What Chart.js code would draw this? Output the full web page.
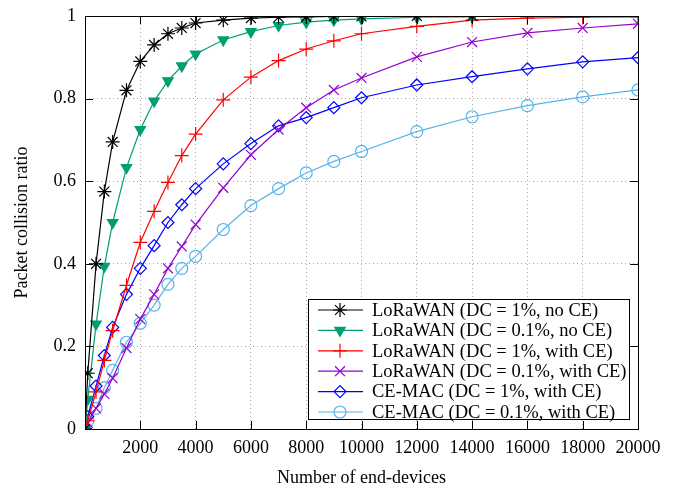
<!DOCTYPE html>
<html>
<head>
<meta charset="utf-8">
<script src="https://cdn.jsdelivr.net/npm/chart.js@4.4.1/dist/chart.umd.min.js"></script>
<style>
    html, body { margin: 0; padding: 0; background: #fff; }
    #wrap { width: 681px; height: 490px; }
</style>
</head>
<body>
<div id="wrap"><canvas id="collision-chart" width="681" height="490"></canvas></div>
<script>
// Số thiết bị (trục X)
const devices = [0, 100, 400, 700, 1000, 1500, 2000, 2500, 3000, 3500, 4000, 5000, 6000, 7000, 8000, 9000, 10000, 12000, 14000, 16000, 18000, 20000];

// Tỉ lệ va chạm - mỗi chuỗi một mảng
const loraDc1NoCe = [0, 0.135, 0.40, 0.575, 0.695, 0.82, 0.89, 0.93, 0.957, 0.971, 0.983, 0.99, 0.995, 0.997, 0.998, 0.999, 0.999, 1.0, 1.0];
const loraDc01NoCe = [0, 0.072, 0.254, 0.394, 0.50, 0.633, 0.725, 0.794, 0.843, 0.879, 0.908, 0.942, 0.962, 0.977, 0.985, 0.99, 0.993, 0.997, 0.998];
const loraDc1Ce = [0, 0.02, 0.09, 0.166, 0.238, 0.348, 0.452, 0.527, 0.597, 0.662, 0.714, 0.797, 0.852, 0.892, 0.92, 0.94, 0.957, 0.975, 0.99, 0.995, 0.997, 0.998];
const loraDc01Ce = [0, 0.015, 0.05, 0.085, 0.123, 0.196, 0.266, 0.326, 0.389, 0.442, 0.495, 0.584, 0.664, 0.725, 0.778, 0.821, 0.85, 0.901, 0.937, 0.959, 0.971, 0.981];
const ceMacDc1 = [0, 0.03, 0.104, 0.178, 0.246, 0.326, 0.389, 0.444, 0.50, 0.543, 0.582, 0.642, 0.691, 0.734, 0.754, 0.778, 0.802, 0.833, 0.853, 0.872, 0.889, 0.899];
const ceMacDc01 = [0, 0.02, 0.05, 0.10, 0.142, 0.21, 0.256, 0.30, 0.35, 0.389, 0.418, 0.483, 0.541, 0.582, 0.62, 0.648, 0.672, 0.72, 0.756, 0.783, 0.804, 0.821];

const seriesLabels = [
    'LoRaWAN (DC = 1%, no CE)',
    'LoRaWAN (DC = 0.1%, no CE)',
    'LoRaWAN (DC = 1%, with CE)',
    'LoRaWAN (DC = 0.1%, with CE)',
    'CE-MAC (DC = 1%, with CE)',
    'CE-MAC (DC = 0.1%, with CE)'
];

const xTicks = [0, 2000, 4000, 6000, 8000, 10000, 12000, 14000, 16000, 18000, 20000];
const yTicks = [0, 0.2, 0.4, 0.6, 0.8, 1];
const yTickLabels = ['0', '0.2', '0.4', '0.6', '0.8', '1'];

const FONT = "'Liberation Serif', 'DejaVu Serif', serif";

function toPoints(values) {
    return values.map((v, i) => ({ x: devices[i], y: v }));
}

function makeSeries(label, values, color, style, radius, extra) {
    return Object.assign({
        label: label,
        data: toPoints(values),
        borderColor: color,
        backgroundColor: color,
        borderWidth: 1.2,
        pointStyle: style,
        pointRadius: radius,
        pointBorderColor: color,
        pointBackgroundColor: color,
        pointBorderWidth: 1.2,
        tension: 0
    }, extra || {});
}

const datasets = [
    makeSeries(seriesLabels[0], loraDc1NoCe, '#000000', 'star', 7),
    makeSeries(seriesLabels[1], loraDc01NoCe, '#009e73', 'triangle', 6, { pointRotation: 180 }),
    makeSeries(seriesLabels[2], loraDc1Ce, '#ff0000', 'cross', 7),
    makeSeries(seriesLabels[3], loraDc01Ce, '#9400d3', 'crossRot', 7),
    makeSeries(seriesLabels[4], ceMacDc1, '#0000ff', 'rectRot', 6, { pointBackgroundColor: 'rgba(0,0,0,0)' }),
    makeSeries(seriesLabels[5], ceMacDc01, '#56b4e9', 'circle', 6, { pointBackgroundColor: 'rgba(0,0,0,0)' })
];

// Khung, vạch chia hướng vào trong và chú thích đặt trong vùng vẽ (kiểu gnuplot)
const gnuplotFrame = {
    id: 'gnuplotFrame',
    afterDraw(chart) {
        const ctx = chart.ctx;
        const a = chart.chartArea;
        const xs = chart.scales.x;
        const ys = chart.scales.y;
        ctx.save();

        // Chú thích
        const box = { left: 308, top: 299, right: a.right - 9, bottom: a.bottom - 10 };
        ctx.fillStyle = '#fff';
        ctx.fillRect(box.left, box.top, box.right - box.left, box.bottom - box.top);
        ctx.strokeStyle = '#000';
        ctx.lineWidth = 1;
        ctx.strokeRect(box.left + 0.5, box.top + 0.5, box.right - box.left, box.bottom - box.top);

        ctx.font = '18.5px ' + FONT;
        ctx.textBaseline = 'middle';
        ctx.textAlign = 'left';
        chart.data.datasets.forEach((ds, i) => {
            const y = box.top + 11 + i * 20.4;
            ctx.strokeStyle = ds.borderColor;
            ctx.lineWidth = ds.borderWidth;
            ctx.beginPath();
            ctx.moveTo(box.left + 10, y);
            ctx.lineTo(box.left + 55, y);
            ctx.stroke();
            ctx.fillStyle = ds.pointBackgroundColor;
            ctx.strokeStyle = ds.pointBorderColor;
            ctx.lineWidth = ds.pointBorderWidth;
            Chart.helpers.drawPoint(ctx, {
                pointStyle: ds.pointStyle,
                rotation: ds.pointRotation || 0,
                radius: ds.pointRadius,
                borderWidth: ds.pointBorderWidth
            }, box.left + 32, y);
            ctx.fillStyle = '#000';
            ctx.fillText(ds.label, box.left + 64, y + 1);
        });

        // Vạch chia
        ctx.strokeStyle = '#000';
        ctx.lineWidth = 1;
        const tl = 8;
        ctx.beginPath();
        xTicks.forEach(v => {
            const px = Math.round(xs.getPixelForValue(v)) + 0.5;
            ctx.moveTo(px, a.bottom); ctx.lineTo(px, a.bottom - tl);
            ctx.moveTo(px, a.top); ctx.lineTo(px, a.top + tl);
        });
        yTicks.forEach(v => {
            const py = Math.round(ys.getPixelForValue(v)) + 0.5;
            ctx.moveTo(a.left, py); ctx.lineTo(a.left + tl, py);
            ctx.moveTo(a.right, py); ctx.lineTo(a.right - tl, py);
        });
        ctx.stroke();

        // Khung
        ctx.strokeRect(Math.round(a.left) + 0.5, Math.round(a.top) + 0.5,
            Math.round(a.right - a.left), Math.round(a.bottom - a.top));
        ctx.restore();
    }
};

new Chart(document.getElementById('collision-chart'), {
    type: 'line',
    data: { datasets: datasets },
    options: {
        responsive: false,
        animation: false,
        devicePixelRatio: 1,
        layout: { padding: { left: 0, top: 16, right: 43, bottom: 0 } },
        plugins: {
            legend: { display: false },
            tooltip: { enabled: false }
        },
        scales: {
            x: {
                type: 'linear',
                min: 0,
                max: 20000,
                afterFit: s => { s.height = 61; s.paddingLeft = 0; s.paddingRight = 0; },
                afterBuildTicks: s => { s.ticks = xTicks.map(v => ({ value: v })); },
                ticks: {
                    color: '#000',
                    font: { family: FONT, size: 18 },
                    padding: 8,
                    maxRotation: 0,
                    callback: v => (v === 0 ? '' : String(v))
                },
                grid: { color: '#a8a8a8', lineWidth: 1, drawTicks: false },
                border: { display: false, dash: [1, 3] },
                title: {
                    display: true,
                    text: 'Number of end-devices',
                    color: '#000',
                    font: { family: FONT, size: 18 },
                    padding: { top: 0, bottom: 1 }
                }
            },
            y: {
                min: 0,
                max: 1,
                afterFit: s => { s.width = 85; s.paddingTop = 0; s.paddingBottom = 0; },
                afterBuildTicks: s => { s.ticks = yTicks.map(v => ({ value: v })); },
                ticks: {
                    color: '#000',
                    font: { family: FONT, size: 18 },
                    padding: 9,
                    callback: v => yTickLabels[yTicks.indexOf(v)] ?? String(v)
                },
                grid: { color: '#a8a8a8', lineWidth: 1, drawTicks: false },
                border: { display: false, dash: [1, 3] },
                title: {
                    display: true,
                    text: 'Packet collision ratio',
                    color: '#000',
                    font: { family: FONT, size: 18 },
                    padding: { top: 11, bottom: 0 }
                }
            }
        }
    },
    plugins: [gnuplotFrame]
});
</script>
</body>
</html>
